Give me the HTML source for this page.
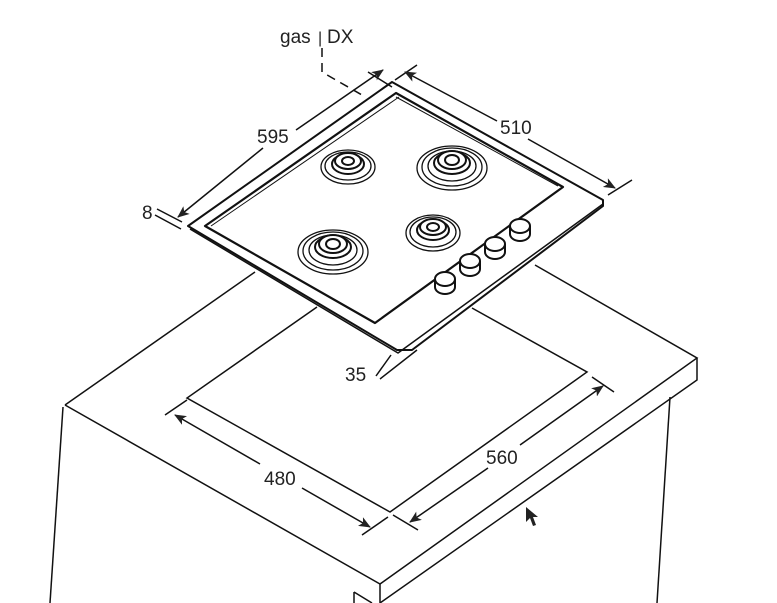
<!DOCTYPE html>
<html><head><style>
html,body{margin:0;padding:0;background:#fff;}
svg{display:block;}
text{font-family:"Liberation Sans",sans-serif;fill:#222;font-size:19px;}
</style></head><body>
<svg width="777" height="603" viewBox="0 0 777 603" xmlns="http://www.w3.org/2000/svg">
<defs>
<marker id="a" markerWidth="12" markerHeight="10" refX="11" refY="5" orient="auto" markerUnits="userSpaceOnUse">
<path d="M0,0 L12,5 L0,10 L3,5 Z" fill="#222"/></marker>
</defs>
<g fill="none" stroke="#111" stroke-width="1.5">
<path d="M65,405 L255,272"/>
<path d="M65,405 L380,584 L697,358 L535,265"/>
<path d="M380,584 L380,603"/>
<path d="M697,358 L697,380 L380,603"/>
<path d="M63,407 L50,603"/>
<path d="M670,397 L657,603"/>
<path d="M354,592 L354,603 M354,592 L372,603"/>
<path d="M317,307 L187,398 L390,512 L587,372 L472,308"/>
<path d="M165,415 L187,400 M362,535 L388,517 M393,515 L418,530 M592,377 L614,392"/>
<path d="M260,464 L175,415" marker-end="url(#a)"/>
<path d="M302,488 L370,527" marker-end="url(#a)"/>
<path d="M488,468 L410,522" marker-end="url(#a)"/>
<path d="M520,445 L603,386" marker-end="url(#a)"/>
<path d="M376,376 L391,355 M380,379 L417,350"/>
<path d="M157,209 L182,222 M155,215 L181,229"/>
</g>
<g stroke="#111" stroke-linejoin="round">
<path d="M392,82 L188,226 L397,350 L412,350 L603,206 L603,200 Z" fill="#fff" stroke-width="2"/>
<path d="M190,229 L398,353 L603,204" fill="none" stroke-width="1.5"/>
<path d="M396,93 L205,226 L375,323 L563,187 Z" fill="#fff" stroke-width="2.2"/>
<path d="M399,97 L211,226" fill="none" stroke-width="1"/>
<path d="M396,97 L558,186" fill="none" stroke-width="1"/>
</g>
<g fill="#fff" stroke="#111" stroke-width="1.3">
<g transform="translate(348,167)"><ellipse rx="27" ry="17"/><ellipse rx="23" ry="14" cy="-1"/><ellipse rx="16" ry="10" cy="-3" stroke-width="2"/><ellipse rx="13" ry="8" cy="-6" stroke-width="2"/><ellipse rx="6" ry="4" cy="-6" stroke-width="2"/></g>
<g transform="translate(452,168)"><ellipse rx="35" ry="22"/><ellipse rx="30" ry="19" cy="-1"/><ellipse rx="24" ry="15" cy="-2"/><ellipse rx="18" ry="11" cy="-5" stroke-width="2"/><ellipse rx="14" ry="9" cy="-8" stroke-width="2"/><ellipse rx="7" ry="5" cy="-8" stroke-width="2"/></g>
<g transform="translate(333,252)"><ellipse rx="35" ry="22"/><ellipse rx="30" ry="19" cy="-1"/><ellipse rx="24" ry="15" cy="-2"/><ellipse rx="18" ry="11" cy="-5" stroke-width="2"/><ellipse rx="14" ry="9" cy="-8" stroke-width="2"/><ellipse rx="7" ry="5" cy="-8" stroke-width="2"/></g>
<g transform="translate(433,233)"><ellipse rx="27" ry="18"/><ellipse rx="23" ry="15" cy="-1"/><ellipse rx="16" ry="10" cy="-3" stroke-width="2"/><ellipse rx="13" ry="8" cy="-6" stroke-width="2"/><ellipse rx="6" ry="4" cy="-6" stroke-width="2"/></g>
<g stroke-width="2">
<g transform="translate(445,283)"><path d="M-10,-4 L-10,4 A10,7 0 0 0 10,4 L10,-4"/><ellipse rx="10" ry="7" cy="-4"/></g>
<g transform="translate(470,265)"><path d="M-10,-4 L-10,4 A10,7 0 0 0 10,4 L10,-4"/><ellipse rx="10" ry="7" cy="-4"/></g>
<g transform="translate(495,248)"><path d="M-10,-4 L-10,4 A10,7 0 0 0 10,4 L10,-4"/><ellipse rx="10" ry="7" cy="-4"/></g>
<g transform="translate(520,230)"><path d="M-10,-4 L-10,4 A10,7 0 0 0 10,4 L10,-4"/><ellipse rx="10" ry="7" cy="-4"/></g>
</g>
</g>
<g fill="none" stroke="#111" stroke-width="1.5">
<path d="M322,48 L322,72 L362,95" stroke-dasharray="9,6"/>
<path d="M368,72 L392,87 M395,80 L417,65 M608,195 L632,180"/>
<path d="M263,148 L178,217" marker-end="url(#a)"/>
<path d="M296,130 L383,70" marker-end="url(#a)"/>
<path d="M497,121 L405,72" marker-end="url(#a)"/>
<path d="M528,139 L615,188" marker-end="url(#a)"/>
</g>
<text x="280" y="43">gas</text><text x="318" y="43" style="font-size:16px">|</text><text x="327" y="43">DX</text>
<text x="257" y="143">595</text>
<text x="500" y="134">510</text>
<text x="142" y="219">8</text>
<text x="345" y="381">35</text>
<text x="264" y="485">480</text>
<text x="486" y="464">560</text>
<path d="M526,507 L526,522 L530,518 L533,526 L536,525 L533,517 L538,517 Z" fill="#222"/>
</svg>
</body></html>
